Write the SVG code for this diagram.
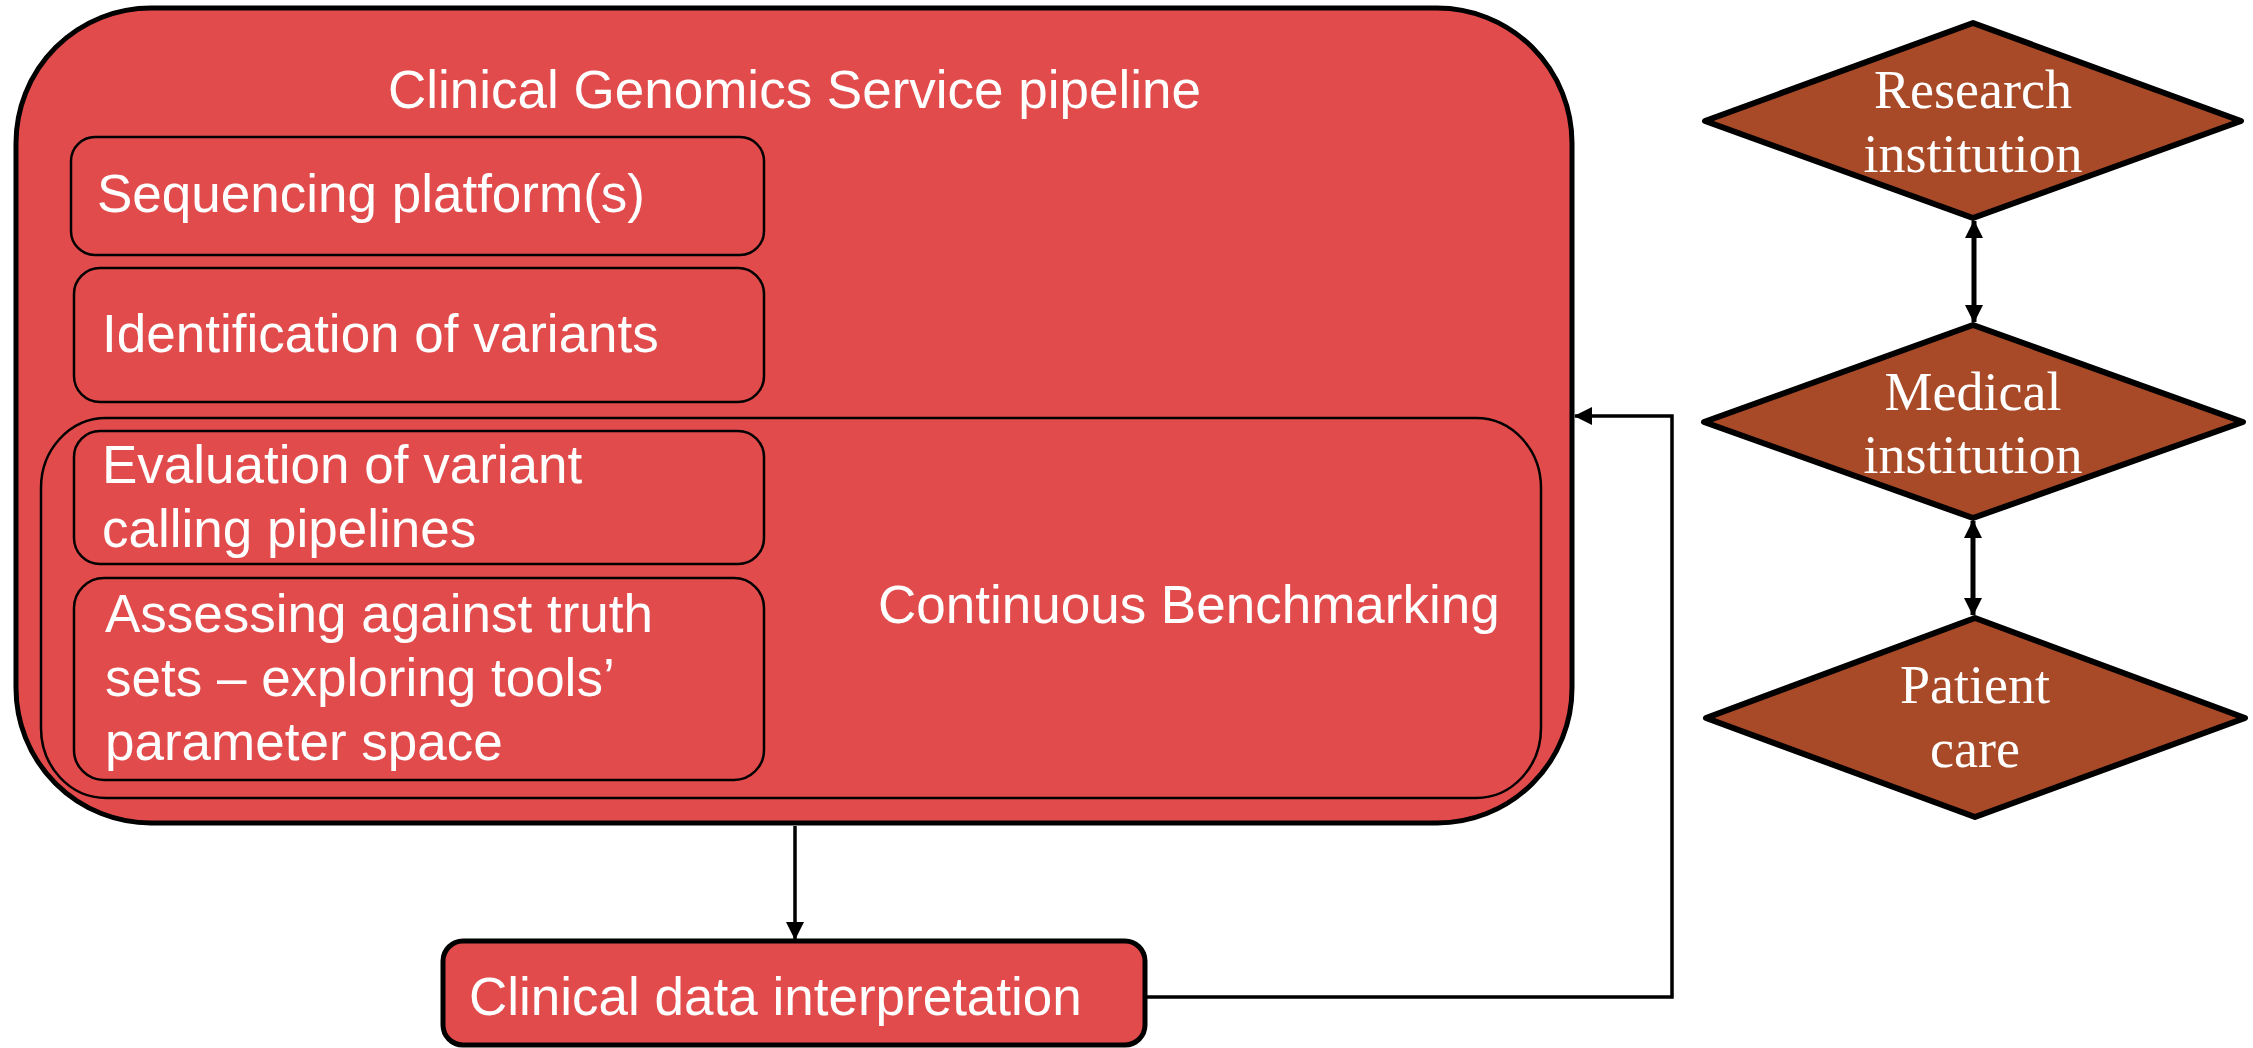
<svg xmlns="http://www.w3.org/2000/svg" width="2253" height="1048" viewBox="0 0 2253 1048">
<style>
.red{fill:#E24B4B;stroke:#000}
.dia{fill:#A84927;stroke:#000;stroke-width:6;stroke-linejoin:round}
.t{font-family:"Liberation Sans",Arial,sans-serif;font-size:53px;fill:#fff}
.s{font-family:"Liberation Serif","Times New Roman",serif;font-size:54px;fill:#fff;text-anchor:middle}
.c{fill:none;stroke:#000}
</style>
<defs>
<marker id="ah" markerUnits="userSpaceOnUse" markerWidth="18" markerHeight="18" refX="17" refY="9" orient="auto-start-reverse" viewBox="0 0 18 18">
<path d="M0,0 L18,9 L0,18 z" fill="#000"/>
</marker>
</defs>
<g id="pipeline">
<rect class="red" x="16" y="8" width="1556" height="815" rx="135" ry="135" stroke-width="5"/>
<text class="t" x="388" y="108">Clinical Genomics Service pipeline</text>
</g>
<g id="benchmarking">
<rect class="red" x="41" y="418" width="1500" height="380" rx="65" ry="70" stroke-width="2.5"/>
<text class="t" x="878" y="623">Continuous Benchmarking</text>
</g>
<g id="sequencing">
<rect class="red" x="71" y="137" width="693" height="118" rx="24" stroke-width="2.5"/>
<text class="t" x="97" y="212">Sequencing platform(s)</text>
</g>
<g id="identification">
<rect class="red" x="74" y="268" width="690" height="134" rx="26" stroke-width="2.5"/>
<text class="t" x="102" y="352">Identification of variants</text>
</g>
<g id="evaluation">
<rect class="red" x="74" y="431" width="690" height="133" rx="26" stroke-width="2.5"/>
<text class="t" x="102" y="483">Evaluation of variant</text>
<text class="t" x="102" y="547">calling pipelines</text>
</g>
<g id="assessing">
<rect class="red" x="74" y="578" width="690" height="202" rx="30" stroke-width="2.5"/>
<text class="t" x="105" y="632">Assessing against truth</text>
<text class="t" x="105" y="696">sets – exploring tools’</text>
<text class="t" x="105" y="760">parameter space</text>
</g>
<g id="interpretation">
<rect class="red" x="443" y="941" width="702" height="104" rx="20" stroke-width="5"/>
<text class="t" x="469" y="1015">Clinical data interpretation</text>
</g>
<g id="research">
<polygon class="dia" points="1973,23 2241,121 1973,218 1705,121"/>
<text class="s" x="1973" y="108">Research</text>
<text class="s" x="1973" y="172">institution</text>
</g>
<g id="medical">
<polygon class="dia" points="1973,325 2243,422 1973,518 1704,422"/>
<text class="s" x="1973" y="410">Medical</text>
<text class="s" x="1973" y="473">institution</text>
</g>
<g id="patient">
<polygon class="dia" points="1975,618 2245,718 1975,817 1706,718"/>
<text class="s" x="1975" y="703">Patient</text>
<text class="s" x="1975" y="767">care</text>
</g>
<g id="connectors">
<line class="c" x1="795" y1="826" x2="795" y2="939" stroke-width="3.5" marker-end="url(#ah)"/>
<polyline class="c" points="1147,997 1672,997 1672,416 1575,416" stroke-width="3.5" marker-end="url(#ah)"/>
<line class="c" x1="1974" y1="221" x2="1974" y2="322" stroke-width="5" marker-start="url(#ah)" marker-end="url(#ah)"/>
<line class="c" x1="1973" y1="521" x2="1973" y2="615" stroke-width="5" marker-start="url(#ah)" marker-end="url(#ah)"/>
</g>
</svg>
